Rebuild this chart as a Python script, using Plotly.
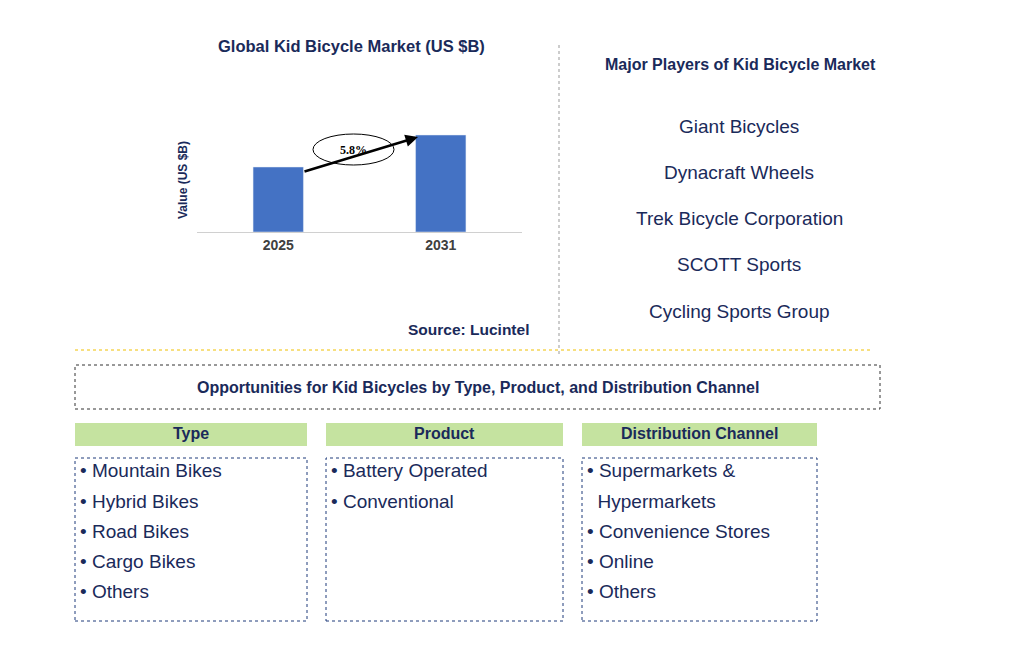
import plotly.graph_objects as go

W, H = 993, 646
years = ["2025", "2031"]
values = [6.5, 9.7]
cagr_label = "5.8%"
players = ["Giant Bicycles", "Dynacraft Wheels", "Trek Bicycle Corporation", "SCOTT Sports", "Cycling Sports Group"]
seg_titles = ["Type", "Product", "Distribution Channel"]
seg_items = [
    ["Mountain Bikes", "Hybrid Bikes", "Road Bikes", "Cargo Bikes", "Others"],
    ["Battery Operated", "Conventional"],
    ["Supermarkets &", "  Hypermarkets", "Convenience Stores", "Online", "Others"],
]

def px(x): return (x - 8) / W
def py(y): return 1 - (y - 8) / H

NAVY = "#1a2a5a"
fig = go.Figure(go.Bar(x=years, y=values, marker_color="#4472c4", width=0.31))
fig.update_layout(
    width=W, height=H, margin=dict(l=0, r=0, t=0, b=0),
    paper_bgcolor="white", plot_bgcolor="white", showlegend=False,
    font=dict(family="Liberation Sans, Arial", color=NAVY),
    xaxis=dict(domain=[px(197), px(522)], showline=True, linecolor="#d0d0d0",
               tickfont=dict(size=14, color="#404040"), tickprefix="<b>", ticksuffix="</b>",
               ticks="", showgrid=False),
    yaxis=dict(domain=[py(232), py(120)], range=[0, 11.2], visible=False),
)
shapes = []
ann = []
def text(x, y, t, size=14, bold=False, color=NAVY, xa="center", family=None):
    f = dict(size=size, color=color)
    if family: f["family"] = family
    ann.append(dict(x=px(x), y=py(y), xref="paper", yref="paper", text=f"<b>{t}</b>" if bold else t,
                    showarrow=False, font=f, xanchor=xa, yanchor="middle", align="left"))
def rect(x0, y0, x1, y1, line=None, fill=None, dash="dot"):
    shapes.append(dict(type="rect", xref="paper", yref="paper", x0=px(x0), x1=px(x1), y0=py(y1), y1=py(y0),
                       line=dict(color=line or "rgba(0,0,0,0)", width=1, dash=dash), fillcolor=fill or "rgba(0,0,0,0)"))

text(351, 46, "Global Kid Bicycle Market (US $B)", 16.5, True)
ann.append(dict(x=px(183), y=py(180), xref="paper", yref="paper", text="<b>Value (US $B)</b>", textangle=-90,
                showarrow=False, font=dict(size=12, color=NAVY), xanchor="center", yanchor="middle"))
ann.append(dict(x=px(418), y=py(137), ax=-115, ay=35, xref="paper", yref="paper",
                showarrow=True, arrowhead=2, arrowwidth=2.5, arrowcolor="black", text=""))
shapes.append(dict(type="circle", xref="paper", yref="paper", x0=px(313), x1=px(394), y0=py(165), y1=py(134),
                   line=dict(color="black", width=1), fillcolor="white", layer="above"))
text(353, 150, cagr_label, 12, True, "black", family="Liberation Serif")
text(468, 329, "Source: Lucintel", 15.5, True)
shapes.append(dict(type="line", xref="paper", yref="paper", x0=px(559), x1=px(559), y0=py(45), y1=py(355),
                   line=dict(color="#999", width=1, dash="dot")))
shapes.append(dict(type="line", xref="paper", yref="paper", x0=px(75), x1=px(870), y0=py(350), y1=py(350),
                   line=dict(color="#f0c000", width=1, dash="dot")))
text(740, 64, "Major Players of Kid Bicycle Market", 16, True)
for i, p in enumerate(players):
    text(739, 126 + i * 46.3, p, 19)
rect(75, 365, 880, 409, line="#333")
text(478, 387, "Opportunities for Kid Bicycles by Type, Product, and Distribution Channel", 16, True)
cols = [(75, 307), (326, 563), (582, 817)]
for (x0, x1), t, items in zip(cols, seg_titles, seg_items):
    rect(x0, 423, x1, 446, fill="#c5e3a0")
    text((x0 + x1) / 2, 434, t, 16, True)
    rect(x0, 458, x1, 621, line="#1f3b7a")
    for j, it in enumerate(items):
        label = it if it.startswith(" ") else "• " + it
        text(x0 + 3, 471 + j * 30, label.replace("  ", "&nbsp;&nbsp;"), 19, xa="left")
fig.update_layout(shapes=shapes, annotations=ann)
fig.write_html("out.html")
